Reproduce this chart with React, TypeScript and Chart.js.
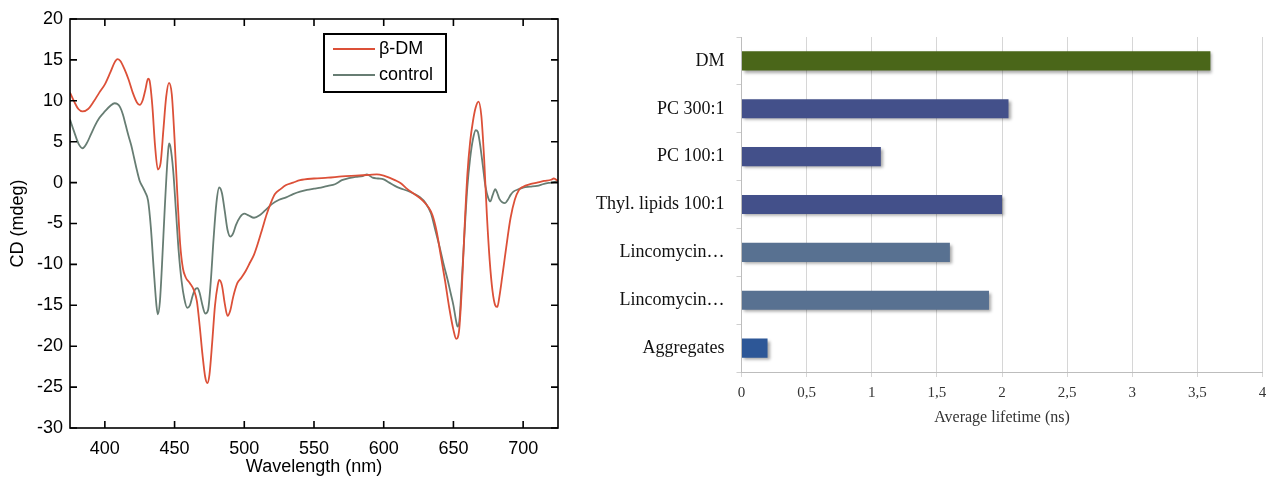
import React, { useEffect, useRef } from 'react';
import { Chart, registerables } from 'chart.js';

Chart.register(...registerables);

// ---------- Left chart: CD spectra ----------
const wavelengthDM = [
  375, 378, 381, 384, 388, 392, 396, 400, 404, 407, 409, 411, 414, 417, 420, 423, 425, 427, 429, 431,
  432, 434, 436, 438, 440, 442, 444, 446, 448, 450, 452, 454, 456, 458, 461, 464, 466, 468, 470, 472,
  473.5, 475, 477, 479, 481, 482, 484, 486, 488, 490, 492, 495, 498, 501, 504, 507, 510, 513, 516, 519,
  522, 526, 530, 535, 540, 550, 560, 570, 580, 590, 595, 600, 604, 608, 612, 617, 622, 628, 632, 635,
  638, 641, 644, 647, 650, 652, 654, 656, 658, 660, 662, 664, 666, 668, 670, 672, 674, 676, 678, 680,
  681.5, 683, 685, 687, 689, 691, 694, 697, 700, 705, 710, 715, 720, 722, 725,
];
const cdDM = [
  11.0, 9.9, 9.0, 8.7, 9.0, 9.9, 11.0, 12.0, 13.5, 14.7, 15.1, 14.9, 13.9, 12.6, 11.0, 9.8, 9.5, 10.0, 11.3, 12.7,
  12.5, 9.5, 4.5, 1.6, 2.4, 6.5, 10.5, 12.2, 10.8, 5.3, -1.5, -7.5, -10.5, -11.6, -12.3, -13.2, -14.5, -17.5, -21.0, -23.8,
  -24.5, -23.5, -19.5, -15.0, -12.5, -11.9, -12.6, -14.8, -16.3, -15.6, -14.0, -12.3, -11.6, -10.8, -9.8, -8.8, -7.3, -5.6, -3.9, -2.5,
  -1.4, -0.8, -0.3, 0.0, 0.3, 0.5, 0.6, 0.75, 0.85, 0.95, 1.0, 0.85, 0.6, 0.3, -0.05, -0.8, -1.4, -2.2, -3.0, -4.0,
  -6.0, -9.0, -12.0, -15.3, -18.0, -19.1, -18.2, -13.0, -5.5, 1.0, 5.0, 7.5, 9.2, 9.9, 8.2, 3.0, -4.0, -9.5, -13.2, -15.0,
  -15.2, -13.9, -11.5, -9.0, -6.5, -4.3, -2.1, -0.9, -0.5, -0.2, 0.0, 0.2, 0.35, 0.5, 0.2,
];

const wavelengthControl = [
  375, 378, 381, 384, 387, 390, 393, 396, 400, 404, 407, 409, 411, 413, 415, 417, 419, 421, 423, 425,
  427, 429, 431, 433, 435, 437, 438, 439.5, 441, 443, 445, 446, 447, 449, 451, 453, 455, 457, 459, 461,
  463, 465, 466.5, 468, 470, 472, 474, 476, 478, 480, 482, 484, 486, 488, 490, 492, 494, 497, 500, 503,
  507, 511, 515, 520, 525, 530, 535, 540, 545, 550, 555, 560, 565, 570, 575, 580, 585, 588, 592, 596,
  600, 604, 608, 612, 617, 622, 626, 630, 634, 637, 640, 643, 646, 648, 650, 652, 653, 654.5, 656, 658,
  660, 662, 664, 666, 667.5, 669, 671, 673, 675, 676.5, 678, 680, 681.5, 683, 685, 687, 689, 691, 693, 697,
  700, 705, 710, 715, 720, 725,
];
const cdControl = [
  7.7, 6.2, 4.8, 4.2, 4.8, 5.9, 7.0, 7.9, 8.7, 9.4, 9.7, 9.6, 9.2, 8.3, 7.0, 5.7, 4.5, 3.0, 1.5, 0.2,
  -0.5, -1.2, -2.2, -5.5, -10.5, -15.0, -16.1, -14.5, -10.0, -3.0, 3.0, 4.8, 4.4, 1.5, -3.5, -8.5, -12.0, -14.2, -15.3, -15.0,
  -13.8, -13.0, -12.9, -13.5, -15.0, -16.0, -15.6, -12.0, -6.8, -2.5, -0.6, -1.3, -3.5, -5.8, -6.6, -6.2, -5.2, -4.2, -3.8, -4.0,
  -4.3, -4.0, -3.4, -2.6, -2.1, -1.8, -1.4, -1.1, -0.9, -0.75, -0.6, -0.4, -0.2, 0.3, 0.55, 0.7, 0.8, 1.0, 0.6, 0.5,
  0.4, 0.0, -0.4, -0.7, -1.0, -1.4, -1.8, -2.5, -3.8, -5.8, -7.8, -10.0, -12.0, -13.5, -15.0, -17.0, -17.6, -16.5, -12.0, -6.0,
  -0.5, 3.0, 5.3, 6.4, 6.2, 4.8, 2.2, -0.5, -1.9, -2.3, -1.6, -0.8, -1.3, -2.0, -2.4, -2.5, -2.1, -1.5, -1.1, -0.8,
  -0.6, -0.5, -0.4, -0.15, 0.0, 0.15,
];

const cdTicks = [-30, -25, -20, -15, -10, -5, 0, 5, 10, 15, 20];
const wavelengthTicks = [400, 450, 500, 550, 600, 650, 700];
const seriesNames = ['\u03b2-DM', 'control'];

// ---------- Right chart: average lifetime ----------
const lifetimeCategories = ['DM', 'PC 300:1', 'PC 100:1', 'Thyl. lipids 100:1', 'Lincomycin\u2026', 'Lincomycin\u2026', 'Aggregates'];
const lifetimeValues = [3.6, 2.05, 1.07, 2.0, 1.6, 1.9, 0.2];
const lifetimeBarColors = ['#4a6619', '#43508a', '#43508a', '#43508a', '#587191', '#587191', '#2d5797'];

const RED = '#dc5038';
const GREY = '#677d73';

const framePlugin = {
  id: 'cdFrame',
  afterDraw(chart: any) {
    const { ctx, chartArea, scales } = chart;
    const { left, right, top, bottom } = chartArea;
    const x = scales.x;
    const y = scales.y;
    ctx.save();
    ctx.strokeStyle = '#000';
    ctx.lineWidth = 1.6;
    ctx.strokeRect(left, top, right - left, bottom - top);
    const tl = 7;
    ctx.beginPath();
    wavelengthTicks.forEach((v) => {
      const px = x.getPixelForValue(v);
      ctx.moveTo(px, bottom);
      ctx.lineTo(px, bottom - tl);
      ctx.moveTo(px, top);
      ctx.lineTo(px, top + tl);
    });
    cdTicks.forEach((v) => {
      const py = y.getPixelForValue(v);
      ctx.moveTo(left, py);
      ctx.lineTo(left + tl, py);
      ctx.moveTo(right, py);
      ctx.lineTo(right - tl, py);
    });
    ctx.stroke();

    // legend box
    const bx = left + 254;
    const by = top + 15;
    const bw = 122;
    const bh = 58;
    ctx.fillStyle = '#fff';
    ctx.fillRect(bx, by, bw, bh);
    ctx.lineWidth = 2;
    ctx.strokeRect(bx, by, bw, bh);
    const colors = [RED, GREY];
    ctx.font = '18px "Liberation Sans", Arial, sans-serif';
    ctx.textBaseline = 'middle';
    ctx.textAlign = 'left';
    seriesNames.forEach((name, i) => {
      const ly = by + 15 + i * 26;
      ctx.strokeStyle = colors[i];
      ctx.lineWidth = 1.8;
      ctx.beginPath();
      ctx.moveTo(bx + 9, ly);
      ctx.lineTo(bx + 51, ly);
      ctx.stroke();
      ctx.fillStyle = '#000';
      ctx.fillText(name, bx + 55, ly);
    });
    ctx.restore();
  },
};

const shadowPlugin = {
  id: 'barShadow',
  beforeDatasetDraw(chart: any) {
    const ctx = chart.ctx;
    ctx.save();
    ctx.shadowColor = 'rgba(0,0,0,0.35)';
    ctx.shadowBlur = 3;
    ctx.shadowOffsetX = 2;
    ctx.shadowOffsetY = 2;
  },
  afterDatasetDraw(chart: any) {
    chart.ctx.restore();
  },
};

function CDChart() {
  const ref = useRef<HTMLCanvasElement | null>(null);
  useEffect(() => {
    if (!ref.current) return;
    const sansFont = { family: '"Liberation Sans", Arial, sans-serif', size: 18 };
    const chart = new Chart(ref.current, {
      type: 'line',
      data: {
        datasets: [
          {
            label: seriesNames[0],
            data: wavelengthDM.map((w, i) => ({ x: w, y: cdDM[i] })),
            borderColor: RED,
            borderWidth: 1.8,
            pointRadius: 0,
            cubicInterpolationMode: 'monotone',
          },
          {
            label: seriesNames[1],
            data: wavelengthControl.map((w, i) => ({ x: w, y: cdControl[i] })),
            borderColor: GREY,
            borderWidth: 1.8,
            pointRadius: 0,
            cubicInterpolationMode: 'monotone',
          },
        ],
      },
      options: {
        animation: false,
        responsive: false,
        devicePixelRatio: 1,
        layout: { padding: { left: 0, right: 12, top: 19, bottom: 0 } },
        plugins: { legend: { display: false }, tooltip: { enabled: false } },
        scales: {
          x: {
            type: 'linear',
            min: 375,
            max: 725,
            afterBuildTicks: (s: any) => {
              s.ticks = wavelengthTicks.map((v) => ({ value: v }));
            },
            afterFit: (s: any) => {
              s.height = 50;
            },
            grid: { display: false, drawTicks: false },
            border: { display: false },
            ticks: { color: '#000', font: sansFont, padding: 10, maxRotation: 0, autoSkip: false },
            title: { display: true, text: 'Wavelength (nm)', color: '#000', font: sansFont, padding: { top: 0, bottom: 0 } },
          },
          y: {
            type: 'linear',
            min: -30,
            max: 20,
            afterBuildTicks: (s: any) => {
              s.ticks = cdTicks.map((v) => ({ value: v }));
            },
            afterFit: (s: any) => {
              s.width = 70;
            },
            grid: { display: false, drawTicks: false },
            border: { display: false },
            ticks: { color: '#000', font: sansFont, padding: 7, autoSkip: false },
            title: { display: true, text: 'CD (mdeg)', color: '#000', font: sansFont, padding: { top: 7, bottom: 0 } },
          },
        },
      },
      plugins: [framePlugin],
    } as any);
    return () => chart.destroy();
  }, []);
  return <canvas ref={ref} width={570} height={478} style={{ position: 'absolute', left: 0, top: 0 }} />;
}

function LifetimeChart() {
  const ref = useRef<HTMLCanvasElement | null>(null);
  useEffect(() => {
    if (!ref.current) return;
    const serif = '"Liberation Serif", "Times New Roman", serif';
    const chart = new Chart(ref.current, {
      type: 'bar',
      data: {
        labels: lifetimeCategories,
        datasets: [
          {
            label: 'Average lifetime (ns)',
            data: lifetimeValues,
            backgroundColor: lifetimeBarColors,
            barPercentage: 0.4,
            categoryPercentage: 1,
          },
        ],
      },
      options: {
        indexAxis: 'y',
        animation: false,
        responsive: false,
        devicePixelRatio: 1,
        layout: { autoPadding: false, padding: { left: 0, right: 5.5, top: 37, bottom: 0 } },
        plugins: { legend: { display: false }, tooltip: { enabled: false } },
        scales: {
          x: {
            min: 0,
            max: 4,
            ticks: {
              stepSize: 0.5,
              color: '#333',
              font: { family: serif, size: 15 },
              padding: 7,
              callback: (v: any) => String(v).replace('.', ','),
            },
            afterFit: (s: any) => {
              s.height = 106;
              s.paddingLeft = 0;
              s.paddingRight = 0;
            },
            grid: { color: '#d6d6d6', lineWidth: 1, tickLength: 5 },
            border: { display: true, color: '#bdbdbd' },
            title: {
              display: true,
              text: 'Average lifetime (ns)',
              color: '#333',
              font: { family: serif, size: 16 },
              padding: { top: 0, bottom: 51 },
            },
          },
          y: {
            afterFit: (s: any) => {
              s.width = 161.5;
            },
            grid: { offset: true, drawOnChartArea: false, tickLength: 5, color: '#cfcfcf' },
            border: { display: true, color: '#bdbdbd' },
            ticks: { color: '#111', font: { family: serif, size: 18 }, padding: 12, autoSkip: false },
          },
        },
      },
      plugins: [shadowPlugin],
    } as any);
    return () => chart.destroy();
  }, []);
  return <canvas ref={ref} width={688} height={478} style={{ position: 'absolute', left: 580, top: 0 }} />;
}

export default function App() {
  return (
    <div style={{ position: 'fixed', left: 0, top: 0, width: 1268, height: 478, background: '#fff', overflow: 'hidden' }}>
      <CDChart />
      <LifetimeChart />
    </div>
  );
}
